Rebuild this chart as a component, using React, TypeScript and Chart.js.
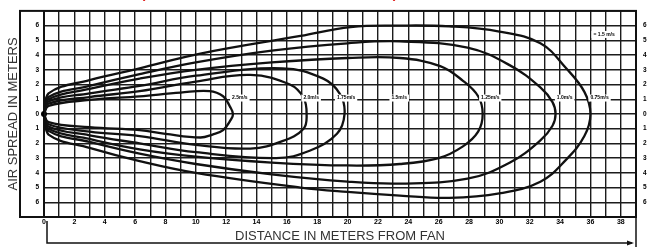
import React, { useEffect, useRef } from 'react';
import { Chart, registerables } from 'chart.js';

Chart.register(...registerables);

type P = [number, number];

// Throw envelopes (distance m, spread m), each as a loop
const curveA: P[] = [
  [0, 0], [0.3, 0.55], [3, 0.95], [6.3, 1.2], [9, 1.45], [10.9, 1.55], [11.8, 1.2], [12.25, 0.5], [12.45, 0],
  [12.3, -0.4], [11.8, -1.1], [11.1, -1.4], [10.3, -1.6], [8, -1.35], [6.3, -1.1], [3, -0.9], [0.3, -0.55], [0, 0],
];
const curveB: P[] = [
  [0, 0], [0.3, 0.7], [3, 1.15], [6.3, 1.55], [10, 2.2], [13.6, 2.65], [16.2, 2.0], [17.1, 1.1], [17.3, 0],
  [17.1, -1.0], [15.7, -1.85], [13.6, -2.35], [10, -2.1], [6.3, -1.5], [3, -1.2], [0.3, -0.7], [0, 0],
];
const curveC: P[] = [
  [0, 0], [0.3, 0.85], [3, 1.4], [6.3, 1.9], [10, 2.6], [15.7, 3.1], [18.4, 2.4], [19.5, 1.35], [19.8, 0],
  [19.3, -1.35], [17.5, -2.5], [15.3, -3.0], [10, -2.6], [6.3, -2.0], [3, -1.45], [0.3, -0.85], [0, 0],
];
const curveE: P[] = [
  [0, 0], [0.3, 1.0], [3, 1.7], [6.3, 2.4], [10, 3.0], [15, 3.5], [20, 3.8], [23.45, 3.8], [26.1, 3.25], [27.6, 2.25], [28.6, 1.2], [28.9, 0],
  [28.6, -1.2], [27.6, -2.2], [26, -3.0], [23.45, -3.4], [20, -3.5], [15, -3.3], [10, -2.9], [6.3, -2.4], [3, -1.7], [0.3, -1.0], [0, 0],
];
const curveF: P[] = [
  [0, 0], [0.3, 1.15], [3, 1.9], [6.3, 2.7], [10, 3.5], [15, 4.3], [20, 4.8], [23.45, 4.93], [27.9, 4.5], [30.7, 3.3], [32.7, 1.8], [33.5, 0.8], [33.7, 0],
  [33.5, -0.8], [32.7, -1.8], [30.7, -3.3], [27.9, -4.4], [23.45, -4.73], [20, -4.6], [15, -4.1], [10, -3.4], [6.3, -2.7], [3, -1.9], [0.3, -1.15], [0, 0],
];
const curveG: P[] = [
  [0, 0], [0.3, 1.4], [3, 2.3], [6.3, 3.1], [10.3, 4.1], [16.9, 5.3], [20.2, 5.9], [23.45, 6.0], [26.7, 5.95], [30, 5.6], [32.7, 4.8], [34.4, 3.1], [35.6, 1.5], [36, 0],
  [35.6, -1.5], [34.4, -3.1], [32.7, -4.6], [30, -5.4], [26.7, -5.7], [23.45, -5.55], [20, -5.3], [16.9, -5.0], [10, -4.0], [6.3, -3.2], [3, -2.3], [0.3, -1.4], [0, 0],
];
const curves: P[][] = [curveA, curveB, curveC, curveE, curveF, curveG];

const fanOrigin: P[] = [[0, 0]];

// Velocity labels near the curve tips
const labelTexts = ['2.5m/s', '2.0m/s', '1.75m/s', '1.5m/s', '1.25m/s', '1.0m/s', '0.75m/s'];
const labelX = [12.9, 17.6, 19.9, 23.4, 29.4, 34.3, 36.6];
const labelY = 1.08;
const legendText = '= 1.5 m/s';

const xTickValues = [0, 2, 4, 6, 8, 10, 12, 14, 16, 18, 20, 22, 24, 26, 28, 30, 32, 34, 36, 38];
const yTickValues = [-6, -5, -4, -3, -2, -1, 0, 1, 2, 3, 4, 5, 6];

const FONT = '"Liberation Sans", Arial, sans-serif';

const decorPlugin = {
  id: 'decor',
  afterDatasetsDraw(chart: any) {
    const ctx = chart.ctx;
    const xs = chart.scales.x;
    const ys = chart.scales.y;
    ctx.save();
    ctx.font = `bold 5px ${FONT}`;
    ctx.textAlign = 'center';
    ctx.textBaseline = 'middle';
    labelTexts.forEach((t, i) => {
      const px = xs.getPixelForValue(labelX[i]);
      const py = ys.getPixelForValue(labelY);
      const w = ctx.measureText(t).width;
      ctx.fillStyle = '#fff';
      ctx.fillRect(px - w / 2 - 2, py - 3.5, w + 4, 7);
      ctx.fillStyle = '#000';
      ctx.fillText(t, px, py);
    });
    const lx = xs.getPixelForValue(36.9);
    const ly = ys.getPixelForValue(5.4);
    const lw = ctx.measureText(legendText).width;
    ctx.fillStyle = '#fff';
    ctx.fillRect(lx - lw / 2 - 2, ly - 3.5, lw + 4, 7);
    ctx.fillStyle = '#000';
    ctx.fillText(legendText, lx, ly);
    ctx.restore();
  },
  afterDraw(chart: any) {
    const ctx = chart.ctx;
    const { left, right, top, bottom } = chart.chartArea;
    ctx.save();
    ctx.strokeStyle = '#111';
    ctx.lineWidth = 2;
    // outer frame
    ctx.strokeRect(20, top, right - 20, bottom - top);
    // bracket with arrow under the axis
    ctx.lineWidth = 1.5;
    ctx.beginPath();
    ctx.moveTo(left + 3, bottom + 4);
    ctx.lineTo(left + 3, 243);
    ctx.lineTo(right - 4, 243);
    ctx.stroke();
    ctx.beginPath();
    ctx.moveTo(right, bottom);
    ctx.lineTo(right, 247);
    ctx.stroke();
    ctx.fillStyle = '#111';
    ctx.beginPath();
    ctx.moveTo(right - 2, 243);
    ctx.lineTo(right - 9, 240.5);
    ctx.lineTo(right - 9, 245.5);
    ctx.closePath();
    ctx.fill();
    // cut-off red heading above the figure
    ctx.fillStyle = '#e0201c';
    ctx.font = `bold 14px ${FONT}`;
    ctx.textAlign = 'center';
    ctx.textBaseline = 'alphabetic';
    ctx.fillText('(', 143, -2.5);
    ctx.fillText(')', 395, -2.5);
    ctx.restore();
  },
};

export default function App() {
  const ref = useRef<HTMLCanvasElement | null>(null);
  useEffect(() => {
    if (!ref.current) return;
    const datasets: any[] = curves.map((c) => ({
      data: c,
      showLine: true,
      borderColor: '#111',
      borderWidth: 2.3,
      pointRadius: 0,
      tension: 0.4,
      fill: false,
    }));
    datasets.push({
      data: fanOrigin,
      showLine: false,
      pointRadius: 3,
      pointBackgroundColor: '#000',
      pointBorderWidth: 0,
      clip: false,
    });
    const chart = new Chart(ref.current, {
      type: 'scatter',
      data: { datasets },
      options: {
        animation: false,
        responsive: false,
        layout: { padding: { top: 10, left: 0, right: 0, bottom: 0 } },
        plugins: { legend: { display: false }, tooltip: { enabled: false } },
        scales: {
          x: {
            type: 'linear',
            min: 0,
            max: 39,
            afterBuildTicks: (s: any) => {
              s.ticks = Array.from({ length: 40 }, (_, i) => ({ value: i }));
            },
            ticks: {
              autoSkip: false,
              maxRotation: 0,
              padding: 1,
              color: '#000',
              font: { family: FONT, size: 7, weight: 'bold' },
              callback: (v: any) => (xTickValues.includes(Number(v)) ? String(v) : ''),
            },
            grid: { color: '#1c1c1c', lineWidth: 1.4, drawTicks: false },
            border: { display: true, color: '#111', width: 2 },
            title: {
              display: true,
              text: 'DISTANCE IN METERS FROM FAN',
              color: '#333',
              font: { family: FONT, size: 13 },
              padding: { top: 0, bottom: 5 },
            },
            afterFit: (s: any) => {
              s.height = 32;
            },
          },
          y: {
            type: 'linear',
            position: 'left',
            min: -7,
            max: 7,
            afterBuildTicks: (s: any) => {
              s.ticks = Array.from({ length: 15 }, (_, i) => ({ value: i - 7 }));
            },
            ticks: {
              autoSkip: false,
              padding: 5,
              color: '#000',
              font: { family: FONT, size: 6.5, weight: 'bold' },
              callback: (v: any) => (yTickValues.includes(Number(v)) ? String(Math.abs(Number(v))) : ''),
            },
            grid: { color: '#1c1c1c', lineWidth: 1.4, drawTicks: false },
            border: { display: true, color: '#111', width: 2 },
            title: {
              display: true,
              text: 'AIR SPREAD IN METERS',
              color: '#333',
              font: { family: FONT, size: 13 },
              padding: { top: 6, bottom: 0 },
            },
            afterFit: (s: any) => {
              s.width = 44;
            },
          },
          y2: {
            type: 'linear',
            position: 'right',
            min: -7,
            max: 7,
            afterBuildTicks: (s: any) => {
              s.ticks = Array.from({ length: 15 }, (_, i) => ({ value: i - 7 }));
            },
            ticks: {
              autoSkip: false,
              padding: 7,
              color: '#000',
              font: { family: FONT, size: 6.5, weight: 'bold' },
              callback: (v: any) => (yTickValues.includes(Number(v)) ? String(Math.abs(Number(v))) : ''),
            },
            grid: { display: false, drawTicks: false },
            border: { display: false },
            afterFit: (s: any) => {
              s.width = 12;
            },
          },
        },
      } as any,
      plugins: [decorPlugin],
    });
    return () => chart.destroy();
  }, []);
  return (
    <div style={{ position: 'absolute', left: 0, top: 0, width: 648, height: 249, background: '#fff' }}>
      <canvas ref={ref} width={648} height={249} style={{ display: 'block', width: 648, height: 249 }} />
    </div>
  );
}
